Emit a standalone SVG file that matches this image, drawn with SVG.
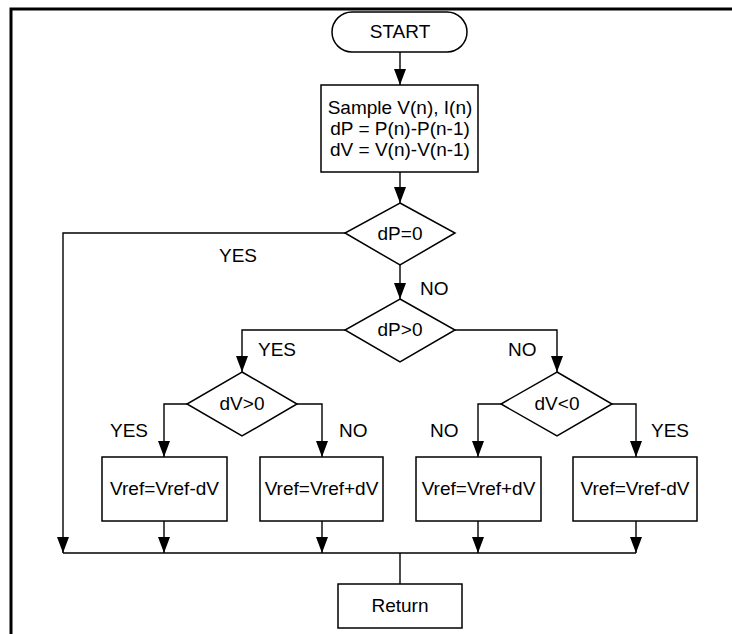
<svg xmlns="http://www.w3.org/2000/svg" width="732" height="634" viewBox="0 0 732 634">
<defs>
<marker id="ah" viewBox="0 0 16 12" refX="16" refY="6" markerWidth="16" markerHeight="12" markerUnits="userSpaceOnUse" orient="auto">
<path d="M0,0 L16,6 L0,12 Z" fill="#000"/>
</marker>
<style>
.s{fill:#fff;stroke:#000;stroke-width:1.5}
.c{fill:none;stroke:#000;stroke-width:1.4}
.t{font-family:"Liberation Sans",Arial,sans-serif;font-size:19px;fill:#000;text-anchor:middle}
.l{font-family:"Liberation Sans",Arial,sans-serif;font-size:19px;fill:#000}
</style>
</defs>
<rect width="732" height="634" fill="#fff"/>
<path d="M11,634 L11,9 L732,9" fill="none" stroke="#000" stroke-width="3"/>

<g id="connectors">
<path class="c" d="M400,52 L400,85" marker-end="url(#ah)"/>
<path class="c" d="M400,172 L400,203" marker-end="url(#ah)"/>
<path class="c" d="M400,265 L400,299" marker-end="url(#ah)"/>
<path class="c" d="M345,233 L63,233 L63,553" marker-end="url(#ah)"/>
<path class="c" d="M345,330 L242,330 L242,372" marker-end="url(#ah)"/>
<path class="c" d="M455,330 L557,330 L557,372" marker-end="url(#ah)"/>
<path class="c" d="M187,404 L164,404 L164,457" marker-end="url(#ah)"/>
<path class="c" d="M297,404 L322,404 L322,457" marker-end="url(#ah)"/>
<path class="c" d="M501,404 L478,404 L478,457" marker-end="url(#ah)"/>
<path class="c" d="M612,404 L636,404 L636,457" marker-end="url(#ah)"/>
<path class="c" d="M164,521 L164,553" marker-end="url(#ah)"/>
<path class="c" d="M322,521 L322,553" marker-end="url(#ah)"/>
<path class="c" d="M478,521 L478,553" marker-end="url(#ah)"/>
<path class="c" d="M636,521 L636,553" marker-end="url(#ah)"/>
<path class="c" d="M63,553 L636,553"/>
<path class="c" d="M400,553 L400,584"/>
<text class="l" x="219" y="262">YES</text>
<text class="l" x="420" y="295">NO</text>
<text class="l" x="258" y="356">YES</text>
<text class="l" x="508" y="356">NO</text>
<text class="l" x="110" y="437">YES</text>
<text class="l" x="339" y="437">NO</text>
<text class="l" x="430" y="437">NO</text>
<text class="l" x="651" y="437">YES</text>
</g>

<g id="start">
<rect class="s" x="332" y="12" width="135" height="40" rx="20" ry="20"/>
<text class="t" x="400" y="38">START</text>
</g>

<g id="sample">
<rect class="s" x="321" y="85" width="157" height="87"/>
<text class="t" x="400" y="113.5">Sample V(n), I(n)</text>
<text class="t" x="400" y="134.5">dP = P(n)-P(n-1)</text>
<text class="t" x="400" y="155.5">dV = V(n)-V(n-1)</text>
</g>

<g id="dp0">
<polygon class="s" points="400,203 455,233 400,265 345,233"/>
<text class="t" x="400" y="240">dP=0</text>
</g>

<g id="dpgt0">
<polygon class="s" points="400,299 455,330 400,362 345,330"/>
<text class="t" x="400" y="336">dP&gt;0</text>
</g>

<g id="dvgt0">
<polygon class="s" points="242,372 297,404 242,436 187,404"/>
<text class="t" x="242" y="410">dV&gt;0</text>
</g>

<g id="dvlt0">
<polygon class="s" points="557,372 612,404 557,436 501,404"/>
<text class="t" x="557" y="410">dV&lt;0</text>
</g>

<g id="box1">
<rect class="s" x="102" y="457" width="125" height="64"/>
<text class="t" x="164.5" y="495">Vref=Vref-dV</text>
</g>

<g id="box2">
<rect class="s" x="260" y="457" width="123" height="64"/>
<text class="t" x="321.5" y="495">Vref=Vref+dV</text>
</g>

<g id="box3">
<rect class="s" x="416" y="457" width="125" height="64"/>
<text class="t" x="478.5" y="495">Vref=Vref+dV</text>
</g>

<g id="box4">
<rect class="s" x="573" y="457" width="124" height="64"/>
<text class="t" x="635" y="495">Vref=Vref-dV</text>
</g>

<g id="return">
<rect class="s" x="338" y="584" width="124" height="44"/>
<text class="t" x="400" y="612">Return</text>
</g>
</svg>
